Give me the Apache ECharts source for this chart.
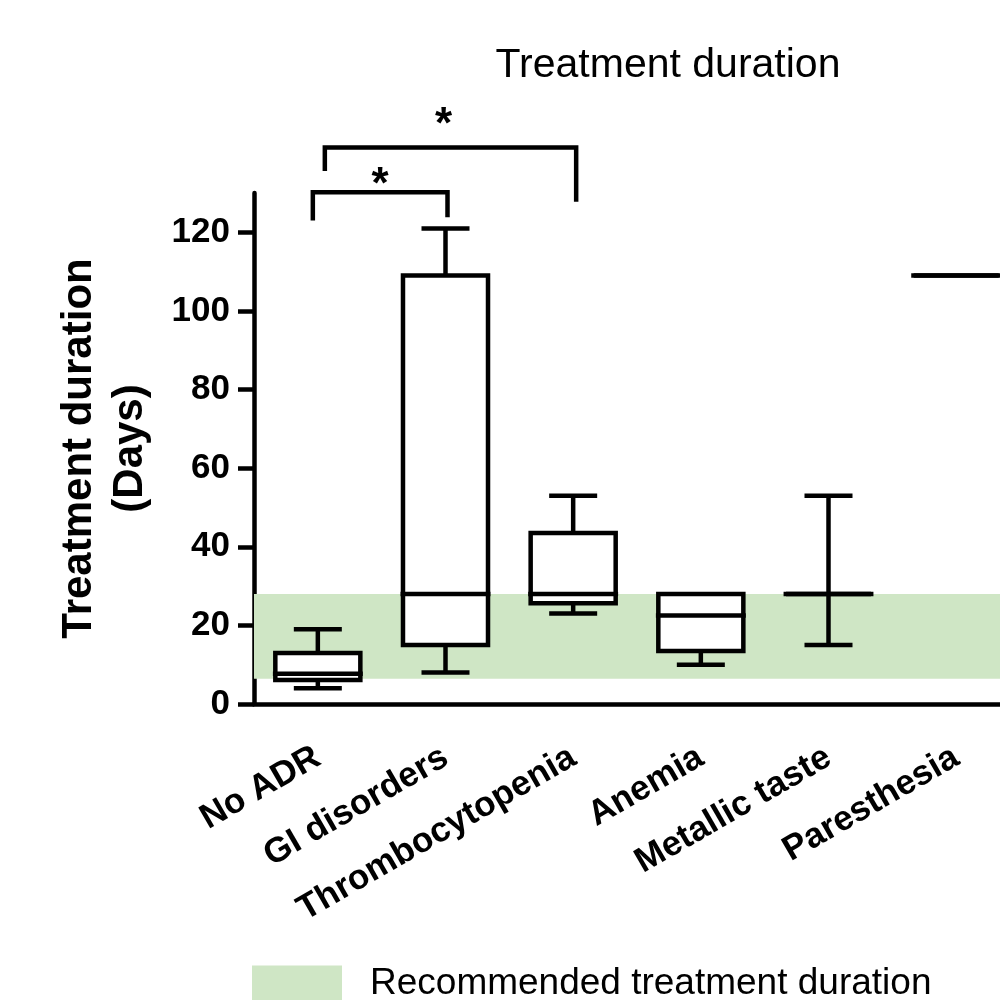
<!DOCTYPE html>
<html>
<head>
<meta charset="utf-8">
<script src="https://cdn.jsdelivr.net/npm/echarts@6/dist/echarts.min.js"></script>
<style>html,body{margin:0;padding:0;background:#fff;overflow:hidden;width:1000px;height:1000px}#c{width:1030px;height:1000px}</style>
</head>
<body>
<div id="c"></div>
<script>
// ---- data ----
var categories = ['No ADR', 'GI disorders', 'Thrombocytopenia', 'Anemia', 'Metallic taste', 'Paresthesia'];
var whiskerMin = [4.0, 8.0, 23.0, 10.0, 15.0, 109];
var q1 =         [6.1, 15.0, 25.6, 13.5, 28.0, 109];
var median =     [7.7, 28.0, 28.0, 22.5, 28.0, 109];
var q3 =         [13.0, 109.0, 43.5, 28.0, 28.0, 109];
var whiskerMax = [19.0, 121.0, 53.0, 28.0, 53.0, 109];
var yTicks = [0, 20, 40, 60, 80, 100, 120];
var recommendedRange = [6.4, 28];
// significance brackets: compared groups, bracket top, left/right leg ends, star level
var bracketFrom = [0, 0];
var bracketTo = [1, 2];
var bracketTop = [130.2, 141.6];
var bracketLeftEnd = [123.0, 135.6];
var bracketRightEnd = [123.8, 127.8];
var starY = [131.9, 147.1];
var starText = ['*', '*'];

var FONT = "'Liberation Sans', Arial, sans-serif";
var LW = 4.5;
// small pixel nudges of bracket legs / stars (style only)
var legNudgeL = [-5, 7], legNudgeR = [2, 3], starNudge = [0, -7];

var boxData = categories.map(function (c, i) {
  return [i, whiskerMin[i], q1[i], median[i], q3[i], whiskerMax[i]];
});
var bracketData = bracketFrom.map(function (f, i) {
  return [f, bracketTo[i], bracketTop[i], bracketLeftEnd[i], bracketRightEnd[i], starY[i]];
});

var chart = echarts.init(document.getElementById('c'));
var lineStyle = {stroke: '#000', lineWidth: LW, lineCap: 'butt'};

chart.setOption({
  animation: false,
  title: {
    text: 'Treatment duration',
    left: 663, top: 40, textAlign: 'center',
    textStyle: {fontFamily: FONT, fontSize: 41, fontWeight: 'normal', color: '#000'}
  },
  legend: {
    left: 252, top: 965, padding: 0,
    itemWidth: 90, itemHeight: 36,
    icon: 'rect',
    data: ['Recommended treatment duration'],
    textStyle: {fontFamily: FONT, fontSize: 37, color: '#000', padding: [0, 0, 0, 23]}
  },
  grid: {left: 254, top: 193, width: 766, height: 511},
  xAxis: {
    type: 'category',
    data: categories,
    axisLine: {lineStyle: {color: '#000', width: LW}},
    axisTick: {alignWithLabel: true, length: 16, lineStyle: {color: '#000', width: LW}},
    axisLabel: {interval: 0, rotate: 30, margin: 51, fontFamily: FONT, fontSize: 35, fontWeight: 'bold', color: '#000'},
    splitLine: {show: false}
  },
  yAxis: {
    type: 'value', min: 0, max: 130, interval: 20,
    name: 'Treatment duration\n(Days)',
    nameLocation: 'middle', nameRotate: 90, nameGap: 98,
    nameTextStyle: {fontFamily: FONT, fontSize: 42, fontWeight: 'bold', color: '#000', lineHeight: 51, align: 'center'},
    axisLine: {show: true, lineStyle: {color: '#000', width: LW}},
    axisTick: {show: true, length: 16, customValues: yTicks, lineStyle: {color: '#000', width: LW}},
    axisLabel: {margin: 24, customValues: yTicks, fontFamily: FONT, fontSize: 35, fontWeight: 'bold', color: '#000'},
    splitLine: {show: false}
  },
  series: [
    {
      name: 'Recommended treatment duration',
      type: 'bar',
      data: [],
      z: 1,
      itemStyle: {color: '#cfe6c5'},
      markArea: {
        silent: true,
        itemStyle: {color: '#cfe6c5'},
        data: [[{yAxis: recommendedRange[0]}, {yAxis: recommendedRange[1]}]]
      }
    },
    {
      type: 'custom',
      z: 5,
      clip: false,
      data: boxData,
      encode: {x: 0, y: [1, 2, 3, 4, 5]},
      renderItem: function (params, api) {
        var i = api.value(0);
        var band = api.size([1, 0])[0];
        var hw = band * 0.333, mw = band * 0.352, cw = band * 0.188;
        var pMin = api.coord([i, api.value(1)]);
        var pQ1 = api.coord([i, api.value(2)]);
        var pMed = api.coord([i, api.value(3)]);
        var pQ3 = api.coord([i, api.value(4)]);
        var pMax = api.coord([i, api.value(5)]);
        var x = pMed[0];
        var children = [];
        function line(x1, y1, x2, y2) {
          children.push({type: 'line', shape: {x1: x1, y1: y1, x2: x2, y2: y2}, style: lineStyle});
        }
        if (pMax[1] < pQ3[1]) { line(x, pQ3[1], x, pMax[1]); line(x - cw, pMax[1], x + cw, pMax[1]); }
        if (pMin[1] > pQ1[1]) { line(x, pQ1[1], x, pMin[1]); line(x - cw, pMin[1], x + cw, pMin[1]); }
        children.push({
          type: 'rect',
          shape: {x: x - hw, y: pQ3[1], width: 2 * hw, height: pQ1[1] - pQ3[1]},
          style: {fill: '#fff', stroke: '#000', lineWidth: LW, lineJoin: 'miter'}
        });
        line(x - mw, pMed[1], x + mw, pMed[1]);
        return {type: 'group', children: children};
      }
    },
    {
      type: 'custom',
      z: 5,
      clip: false,
      silent: true,
      data: bracketData,
      encode: {x: [0, 1], y: [2]},
      renderItem: function (params, api) {
        var k = params.dataIndex;
        var pL = api.coord([api.value(0), api.value(2)]);
        var pR = api.coord([api.value(1), api.value(2)]);
        var pLE = api.coord([api.value(0), api.value(3)]);
        var pRE = api.coord([api.value(1), api.value(4)]);
        var pS = api.coord([api.value(0), api.value(5)]);
        var xl = pL[0] + legNudgeL[k], xr = pR[0] + legNudgeR[k];
        return {
          type: 'group',
          children: [
            {type: 'polyline', shape: {points: [[xl, pLE[1]], [xl, pL[1]], [xr, pR[1]], [xr, pRE[1]]]},
              style: {stroke: '#000', lineWidth: LW, fill: null, lineJoin: 'miter', lineCap: 'butt'}},
            {type: 'text', x: (xl + xr) / 2 + starNudge[k], y: pS[1],
              style: {text: starText[k], fill: '#000', font: 'bold 44px ' + FONT, textAlign: 'center', textVerticalAlign: 'middle'}}
          ]
        };
      }
    }
  ]
});
</script>
</body>
</html>
